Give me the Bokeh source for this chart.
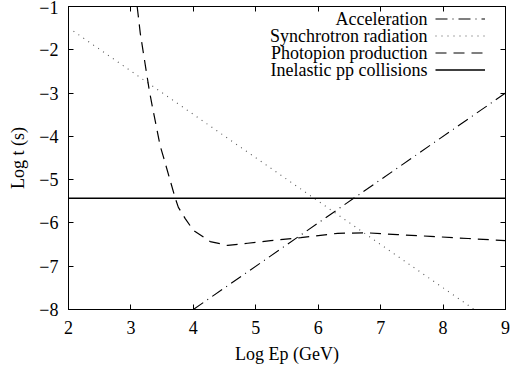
from bokeh.plotting import figure
from bokeh.models import Range1d, LinearAxis, FixedTicker, Legend, LegendItem, Label
from bokeh.core.properties import value
from bokeh.embed import file_html
from bokeh.resources import INLINE

# ---- data ----
acc_x = [4.0, 9.0]
acc_y = [-8.0, -3.0]

sync_x = [2.08, 8.5]
sync_y = [-1.57, -8.0]

photo_x = [3.10, 3.15, 3.29, 3.34, 3.47, 3.53, 3.71, 3.76, 3.87, 4.00, 4.27,
           4.55, 4.87, 5.24, 5.72, 6.31, 6.80, 7.27, 7.80, 8.40, 9.00]
photo_y = [-1.00, -1.62, -2.90, -3.29, -4.23, -4.52, -5.43, -5.64, -5.90, -6.17, -6.43,
           -6.52, -6.47, -6.41, -6.34, -6.24, -6.23, -6.27, -6.31, -6.36, -6.41]

pp_x = [2.0, 9.0]
pp_y = [-5.43, -5.43]

x_ticks = [2, 3, 4, 5, 6, 7, 8, 9]
y_ticks = [-8, -7, -6, -5, -4, -3, -2, -1]

labels = ["Acceleration", "Synchrotron radiation", "Photopion production",
          "Inelastic pp collisions"]

FONT = "'Liberation Serif', serif"
FS = "18px"

p = figure(width=510, height=370, output_backend="svg", toolbar_location=None,
           x_range=Range1d(2, 9), y_range=Range1d(-8, -1),
           min_border_left=68, min_border_right=5, min_border_top=6,
           min_border_bottom=61)
p.background_fill_color = "white"
p.border_fill_color = "white"
p.outline_line_color = "black"
p.outline_line_width = 1
p.xgrid.visible = False
p.ygrid.visible = False

r_acc = p.line(acc_x, acc_y, line_color="black", line_width=1.1, line_dash="12 5 1 5")
r_syn = p.line(sync_x, sync_y, line_color="#555555", line_width=1.1, line_dash="1 5")
r_pho = p.line(photo_x, photo_y, line_color="black", line_width=1.2, line_dash="11 7")
r_pp = p.line(pp_x, pp_y, line_color="black", line_width=1.3)


def style_axis(ax, ticks, show_labels):
    ax.ticker = FixedTicker(ticks=ticks)
    ax.major_tick_in = 5
    ax.major_tick_out = 0
    ax.minor_tick_line_color = None
    ax.axis_line_color = "black"
    ax.major_tick_line_color = "black"
    ax.major_label_text_font = FONT
    ax.major_label_text_color = "black"
    ax.axis_label_text_font = FONT
    ax.axis_label_text_font_style = "normal"
    ax.axis_label_text_color = "black"
    ax.axis_label_text_font_size = FS
    ax.major_label_text_font_size = FS
    if not show_labels:
        ax.major_label_overrides = {t: "" for t in ticks}
        ax.major_label_standoff = 0


xa = p.xaxis[0]
ya = p.yaxis[0]
style_axis(xa, x_ticks, True)
style_axis(ya, y_ticks, True)
xa.axis_label = "Log Ep (GeV)"
ya.axis_label = "Log t (s)"
xa.major_label_standoff = 11
ya.major_label_standoff = 10
xa.axis_label_standoff = 7
ya.axis_label_standoff = 8

top_ax = LinearAxis()
style_axis(top_ax, x_ticks, False)
p.add_layout(top_ax, "above")
right_ax = LinearAxis()
style_axis(right_ax, y_ticks, False)
p.add_layout(right_ax, "right")

# legend: line samples (gnuplot style: text on the left, sample on the right)
legend = Legend(items=[LegendItem(label=value(""), renderers=[r]) for r in (r_acc, r_syn, r_pho, r_pp)],
                location=(367, 231), glyph_width=50, glyph_height=17, label_height=17,
                label_width=0, label_standoff=0, spacing=0, padding=0,
                label_text_font_size="10px", border_line_alpha=0,
                background_fill_alpha=0)
p.add_layout(legend, "center")

for i, t in enumerate(labels):
    p.add_layout(Label(x=359, y=291 - 17 * i, x_units="screen", y_units="screen",
                       text=t, text_align="right", text_baseline="middle",
                       text_font=FONT, text_font_size=FS, text_color="black"))

open("out.html", "w").write(file_html(p, INLINE))
